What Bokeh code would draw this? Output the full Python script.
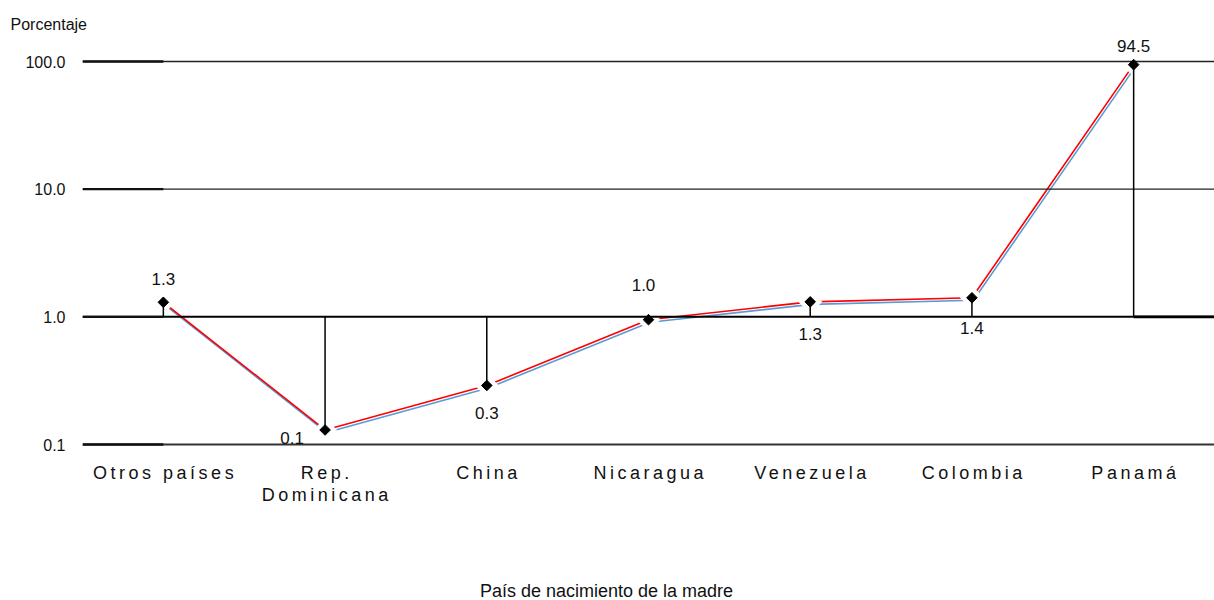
import math
from bokeh.plotting import figure
from bokeh.layouts import column
from bokeh.models import (Range1d, LogScale, ColumnDataSource, FixedTicker, Label,
                          InlineStyleSheet)
from bokeh.embed import file_html
from bokeh.resources import INLINE
from bokeh.core.properties import value

# ---------------- data ----------------
categories = ["Otros países", "Rep.\nDominicana", "China", "Nicaragua",
              "Venezuela", "Colombia", "Panamá"]
values = [1.3, 0.13, 0.29, 0.95, 1.31, 1.41, 94.5]
value_labels = ["1.3", "0.1", "0.3", "1.0", "1.3", "1.4", "94.5"]
y_ticks = [0.1, 1.0, 10.0, 100.0]
y_tick_labels = ["0.1", "1.0", "10.0", "100.0"]
baseline = 1.0
y_title = "Porcentaje"
x_title = "País de nacimiento de la madre"

# label placement (screen px relative to each marker)
label_dx = [0, -33, 0, -5, 0, 0, 0]
label_dy = [-23, 8, 28, -35, 32, 30, -19]

FONT = "Liberation Sans"
W = 1214
HA, HB, HC = 452, 70, 78
frame_left = 82
frame_top, frame_bottom = 36, 450       # in figure A
y_min_px, y_max_px = 444, 61            # pixel rows of 0.1 and 100
px_per_decade = (y_min_px - y_max_px) / 3.0
y_start = 0.1 * 10 ** (-(frame_bottom - y_min_px) / px_per_decade)
y_end = 0.1 * 10 ** ((y_min_px - frame_top) / px_per_decade)
LS = 3.5          # letter spacing of category labels (px)
cat_line1, cat_gap = 472, 22

n = len(categories)
xs = list(range(n))
x_range = Range1d(-0.5, n - 0.5)

# ================= Figure A: plot area =================
p = figure(width=W, height=HA, x_range=x_range,
           y_range=Range1d(y_start, y_end), y_axis_type="log",
           x_axis_location=None,
           output_backend="svg", toolbar_location=None,
           min_border_left=frame_left, min_border_right=0,
           min_border_top=frame_top, min_border_bottom=HA - frame_bottom)
p.outline_line_color = None
p.grid.visible = False

p.title.text = y_title
p.title.align = "left"
p.title.offset = -72
p.title.standoff = 8
p.title.text_font = FONT
p.title.text_font_size = "16px"
p.title.text_font_style = "normal"
p.title.text_color = "#111111"

# offset ranges for the light-blue shadow line
k = 10 ** (2.5 / px_per_decade)
dxu = 1.5 / ((W - frame_left) / n)
p.extra_y_ranges = {"blue": Range1d(y_start * k, y_end * k)}
p.extra_y_scales = {"blue": LogScale()}
p.extra_x_ranges = {"blue": Range1d(-0.5 - dxu, n - 0.5 - dxu)}

src = ColumnDataSource(dict(x=xs, y=values, base=[baseline] * n,
                            lab=value_labels, dx=label_dx, dy=label_dy))

p.line("x", "y", source=src, line_color="#5B9BD5", line_width=1.6,
       x_range_name="blue", y_range_name="blue")
p.line("x", "y", source=src, line_color="#FF0000", line_width=1.6)

# white halo around markers
p.scatter("x", "y", source=src, marker="square", size=17, angle=math.pi / 4,
          fill_color="white", line_color=None)

# horizontal reference lines
widths = [2.0, 2.0, 1.3, 1.3]
colors = ["#333333", "#000000", "#222222", "#222222"]
gs = ColumnDataSource(dict(x0=[-0.5] * 4, x1=[n - 0.5] * 4, y=y_ticks,
                           w=widths, c=colors))
p.segment(x0="x0", y0="y", x1="x1", y1="y", source=gs,
          line_width="w", line_color="c")
ls = ColumnDataSource(dict(x0=[-0.5] * 4, x1=[0] * 4, y=y_ticks))
p.segment(x0="x0", y0="y", x1="x1", y1="y", source=ls,
          line_width=2.4, line_color="#111111")
p.segment(x0=[n - 1], y0=[baseline], x1=[n - 0.5], y1=[baseline],
          line_width=2.6, line_color="black")

# drop lines from 1.0
p.segment(x0="x", y0="base", x1="x", y1="y", source=src,
          line_width=1.5, line_color="black")

# markers
p.scatter("x", "y", source=src, marker="square", size=7.5, angle=math.pi / 4,
          fill_color="black", line_color="black")

# value labels
p.text("x", "y", text="lab", source=src, x_offset="dx", y_offset="dy",
       text_align="center", text_baseline="middle",
       text_font=value(FONT), text_font_size="17px", text_color="#111111")

ya = p.yaxis[0]
ya.ticker = FixedTicker(ticks=y_ticks, minor_ticks=[])
ya.major_label_overrides = {t: l for t, l in zip(y_ticks, y_tick_labels)}
ya.axis_line_color = None
ya.major_tick_line_color = None
ya.minor_tick_line_color = None
ya.major_tick_out = 0
ya.major_tick_in = 0
ya.major_label_standoff = 17
ya.major_label_text_font = FONT
ya.major_label_text_font_size = "16px"
ya.major_label_text_color = "#111111"

# ================= Figure B: category labels (letter-spaced) =================
pb = figure(width=W, height=HB, x_range=x_range, y_range=Range1d(0, HB),
            x_axis_location=None, y_axis_location=None,
            output_backend="svg", toolbar_location=None,
            min_border_left=frame_left, min_border_right=0,
            min_border_top=0, min_border_bottom=0)
pb.outline_line_color = None
pb.grid.visible = False
pb.stylesheets = [InlineStyleSheet(css=":host { letter-spacing: %.1fpx; }" % LS)]

t_txt, t_x, t_y, t_dx = [], [], [], []
for i, c in enumerate(categories):
    for j, part in enumerate(c.split("\n")):
        t_txt.append(part)
        t_x.append(i)
        t_y.append(HB - (cat_line1 + j * cat_gap - HA))
        t_dx.append(-(len(part) - 1) * LS / 2)
tsrc = ColumnDataSource(dict(x=t_x, y=t_y, t=t_txt, dx=t_dx))
pb.text("x", "y", text="t", source=tsrc, x_offset="dx",
        text_align="center", text_baseline="middle",
        text_font=value(FONT), text_font_size="18px", text_color="#111111")

# ================= Figure C: x-axis title =================
pc = figure(width=W, height=HC, x_range=Range1d(0, W), y_range=Range1d(0, HC),
            x_axis_location=None, y_axis_location=None,
            output_backend="svg", toolbar_location=None,
            min_border_left=0, min_border_right=0,
            min_border_top=0, min_border_bottom=0)
pc.outline_line_color = None
pc.grid.visible = False
pc.add_layout(Label(x=524, y=HC - (590 - HA - HB), x_units="screen", y_units="screen",
                    text=x_title, text_font=FONT, text_font_size="18px",
                    text_align="center", text_baseline="middle",
                    text_color="#111111"))

layout = column(p, pb, pc, spacing=0)
open("out.html", "w").write(file_html(layout, INLINE))
